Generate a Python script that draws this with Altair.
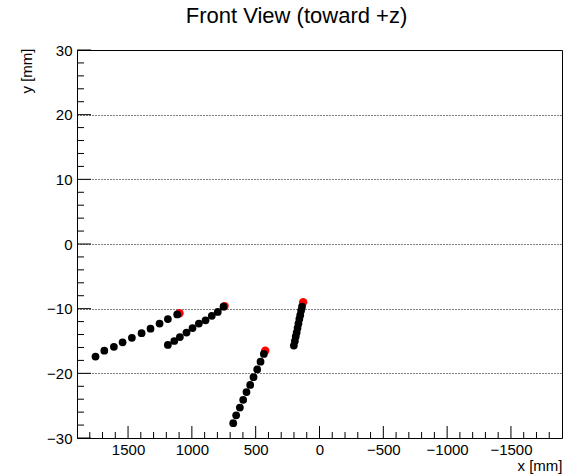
import altair as alt
import pandas as pd

# Hit positions of the four tracks (x and y in mm)
track1_x = [1755, 1686, 1611, 1543, 1470, 1394, 1324, 1253, 1188, 1115]
track1_y = [-17.4, -16.5, -15.9, -15.2, -14.5, -13.8, -13.1, -12.3, -11.6, -10.9]

track2_x = [1188, 1138, 1094, 1042, 995, 945, 893, 844, 797, 752]
track2_y = [-15.6, -15.0, -14.4, -13.7, -13.0, -12.3, -11.8, -11.1, -10.5, -9.7]

track3_x = [676, 653, 624, 598, 572, 543, 517, 488, 462, 436]
track3_y = [-27.7, -26.5, -25.3, -24.1, -22.9, -21.8, -20.6, -19.4, -18.2, -17.0]

track4_x = [201, 193, 186, 179, 172, 165, 158, 151, 144, 137]
track4_y = [-15.7, -15.0, -14.3, -13.7, -13.0, -12.3, -11.6, -11.0, -10.3, -9.7]

# Highlighted end point of each track
end_x = [1097, 744, 425, 128]
end_y = [-10.7, -9.6, -16.5, -9.0]

# Axis ticks
x_major = [1500, 1000, 500, 0, -500, -1000, -1500]
x_minor = [v for v in range(-1800, 1900, 100) if v % 500 != 0]
y_major = [-30, -20, -10, 0, 10, 20, 30]
y_minor = [v for v in range(-28, 30, 2) if v % 10 != 0]

X_DOMAIN = [1900, -1900]
Y_DOMAIN = [-30, 30]
W, H = 485, 388
FONT = "Liberation Sans"

hits = pd.DataFrame({
    "x": track1_x + track2_x + track3_x + track4_x,
    "y": track1_y + track2_y + track3_y + track4_y,
})
ends = pd.DataFrame({"x": end_x, "y": end_y})

xs = alt.Scale(domain=X_DOMAIN, nice=False, zero=False)
ys = alt.Scale(domain=Y_DOMAIN, nice=False, zero=False)

x_axis = alt.Axis(
    values=x_major, format="d", ticks=False, domain=False, grid=False,
    labelFont=FONT, labelFontSize=15, labelColor="black", labelPadding=4,
    title="x [mm]", titleFont=FONT, titleFontSize=15, titleFontWeight="normal",
    titleColor="black", titleAlign="right", titleAnchor="end",
    titleX=W, titleY=32, titleBaseline="alphabetic")
y_axis = alt.Axis(
    values=y_major, format="d", ticks=False, domain=False,
    grid=True, gridDash=[1, 2], gridColor="black", gridOpacity=1, gridWidth=1,
    labelFont=FONT, labelFontSize=15, labelColor="black", labelPadding=5,
    title="y [mm]", titleFont=FONT, titleFontSize=15, titleFontWeight="normal",
    titleColor="black", titleAngle=270, titleAlign="right",
    titleX=-46, titleY=-2, titleBaseline="alphabetic")


def X(field):
    return alt.X(f"{field}:Q", scale=xs, axis=x_axis)


def Y(field):
    return alt.Y(f"{field}:Q", scale=ys, axis=y_axis)


# Inward-pointing ticks, ROOT style
def y_ticks(vals, length):
    return alt.Chart(pd.DataFrame({"y": vals})).mark_rule(color="black", strokeWidth=1).encode(
        y=Y("y"), x=alt.value(0), x2=alt.value(length))


def x_ticks(vals, length):
    return alt.Chart(pd.DataFrame({"x": vals})).mark_rule(color="black", strokeWidth=1).encode(
        x=X("x"), y=alt.value(H), y2=alt.value(H - length))


red = alt.Chart(ends).mark_circle(color="#ff0000", opacity=1, size=70).encode(
    x=X("x"), y=Y("y"))
black = alt.Chart(hits).mark_circle(color="black", opacity=1, size=60).encode(
    x=X("x"), y=Y("y"))

chart = alt.layer(
    y_ticks(y_major, 14), y_ticks(y_minor, 7),
    x_ticks(x_major, 12), x_ticks(x_minor, 6),
    red, black,
).properties(
    width=W, height=H,
    autosize=alt.AutoSizeParams(type="none"),
    padding={"left": 77, "top": 50, "right": 19, "bottom": 37},
    title=alt.Title("Front View (toward +z)", font=FONT, fontSize=22, fontWeight="normal",
                    color="black", anchor="middle", dx=-23, dy=10, offset=8,
                    baseline="alphabetic"),
).configure(
    background="white"
).configure_view(
    stroke="black", strokeWidth=1
)

chart.save("out.html", embed_options={"renderer": "svg", "actions": False})
